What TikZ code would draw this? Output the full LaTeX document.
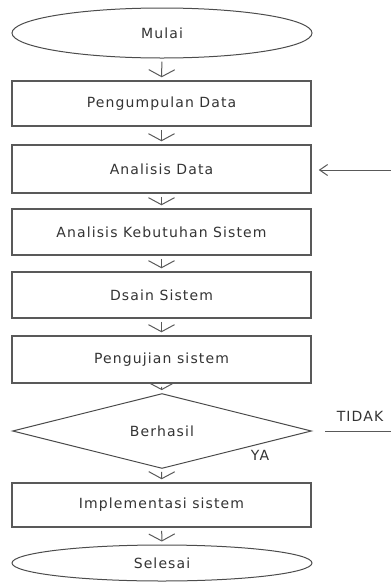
\documentclass[tikz,border=0pt]{standalone}
\usepackage{fontspec}
\setmainfont{DejaVu Sans}[LetterSpace=8]
\usetikzlibrary{shapes.geometric,arrows.meta}

\tikzset{
  proses/.style={draw=black!65, line width=1.5pt, minimum width=299pt, inner sep=0pt},
  terminal/.style={ellipse, draw=black!70, line width=1pt, minimum width=300pt, inner sep=0pt},
  keputusan/.style={diamond, draw=black!70, line width=1pt, minimum width=299pt, minimum height=56pt, inner sep=0pt},
  alur/.style={draw=black!65, line width=1pt, -{Straight Barb[length=7pt,width=26pt]}, shorten <=3pt, shorten >=3pt},
}

\begin{document}
\begin{tikzpicture}[x=1pt, y=-1pt, font=\fontsize{14}{16}\selectfont, text=black!80]
  \useasboundingbox (0,0) rectangle (391,582);
  \node[terminal, minimum height=50pt] (mulai) at (162,33) {Mulai};
  \node[proses, minimum height=45pt] (kumpul) at (161.5,103.5) {Pengumpulan Data};
  \node[proses, minimum height=48pt] (analisis) at (161.5,169) {Analisis Data};
  \node[proses, minimum height=46pt] (kebutuhan) at (161.5,232) {Analisis Kebutuhan Sistem};
  \node[proses, minimum height=46pt] (desain) at (161.5,295) {Dsain Sistem};
  \node[proses, minimum height=47pt] (uji) at (161.5,359.5) {Pengujian sistem};
  \node[keputusan] (berhasil) at (162,431) {Berhasil};
  \node[proses, minimum height=44pt] (implementasi) at (161.5,505) {Implementasi sistem};
  \node[terminal, minimum height=36pt] (selesai) at (162,563) {Selesai};

  \draw[alur] (mulai) -- (kumpul);
  \draw[alur] (kumpul) -- (analisis);
  \draw[alur] (analisis) -- (kebutuhan);
  \draw[alur] (kebutuhan) -- (desain);
  \draw[alur] (desain) -- (uji);
  \draw[alur] (uji) -- (berhasil);
  \draw[alur] (berhasil) -- (implementasi);
  \draw[alur] (implementasi) -- (selesai);

  % jalur kembali jika tidak berhasil
  \coordinate (tepi) at (391,431);
  \coordinate (balik) at (391,170);
  \draw[draw=black!65, line width=1pt, shorten <=13pt] (berhasil.east) -- (tepi);
  \draw[draw=black!65, line width=1pt, -{Straight Barb[length=8pt,width=11pt]}, shorten >=7pt] (balik) -- (analisis.east |- balik);
  \node (tidak) at (360,416) {TIDAK};
  \node (ya) at (260,455) {YA};
\end{tikzpicture}
\end{document}
